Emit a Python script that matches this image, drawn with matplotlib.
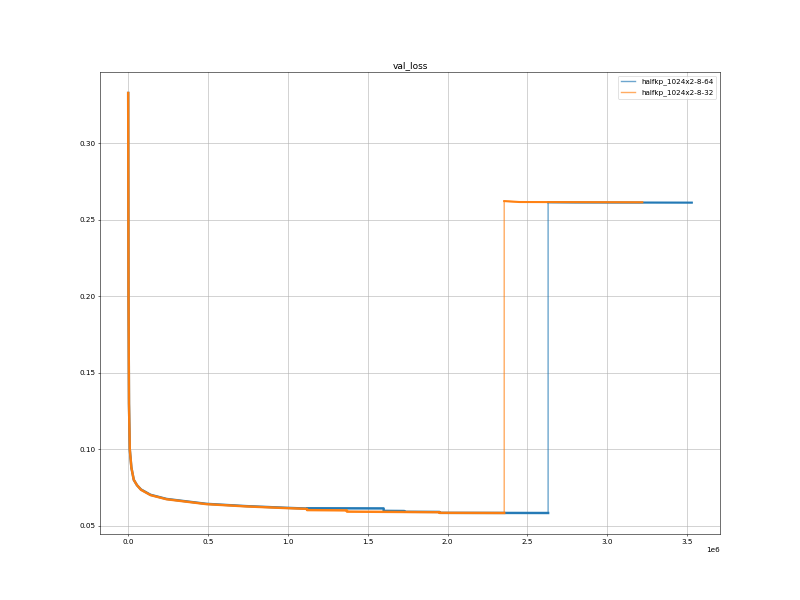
import matplotlib
matplotlib.use("Agg")
import matplotlib.pyplot as plt

title = "val_loss"
labels = ["halfkp_1024x2-8-64", "halfkp_1024x2-8-32"]

# steps (in units of 1e6) and validation loss
blue_x = [0.0, 0.002, 0.005, 0.01, 0.02, 0.035, 0.055, 0.08, 0.14, 0.24, 0.49, 0.74, 0.99, 1.12,
          1.12, 1.6, 1.6, 1.73, 1.73, 1.95, 1.95, 2.63, 2.63, 2.8, 3.53]
blue_y = [0.333, 0.2, 0.13, 0.1, 0.088, 0.080, 0.0765, 0.0737, 0.0702, 0.0675, 0.0643, 0.0628, 0.0617, 0.0612,
          0.0614, 0.0613, 0.0597, 0.0596, 0.0591, 0.0590, 0.0584, 0.0583, 0.2615, 0.2614, 0.2613]
blue_jump = 22

orange_x = [0.0, 0.002, 0.005, 0.01, 0.02, 0.035, 0.055, 0.08, 0.14, 0.24, 0.49, 0.74, 0.99, 1.12,
            1.12, 1.37, 1.37, 1.95, 1.95, 2.355, 2.355, 2.45, 3.22]
orange_y = [0.333, 0.2, 0.13, 0.1, 0.088, 0.080, 0.0765, 0.0735, 0.0700, 0.0673, 0.0641, 0.0626, 0.0615, 0.0610,
            0.0602, 0.0600, 0.0592, 0.0588, 0.0584, 0.0583, 0.2623, 0.2617, 0.2615]
orange_jump = 20

fig, ax = plt.subplots(figsize=(16, 12), dpi=50)
series = [(blue_x, blue_y, blue_jump, "#1f77b4", labels[0]),
          (orange_x, orange_y, orange_jump, "#ff7f0e", labels[1])]
for xs, ys, j, c, lab in series:
    X = [v * 1e6 for v in xs]
    ax.plot(X, ys, color=c, alpha=0.65, lw=2.0, label=lab)
    ax.plot(X[:j], ys[:j], color=c, alpha=0.95, lw=3.5)
    ax.plot(X[j:], ys[j:], color=c, alpha=0.95, lw=3.0)

ax.set_title(title, fontsize=13)
ax.tick_params(labelsize=10.5)
ax.xaxis.get_offset_text().set_fontsize(10.5)
ax.grid(True)
ax.legend(loc="upper right", fontsize=10.5)
fig.savefig("out.png")
